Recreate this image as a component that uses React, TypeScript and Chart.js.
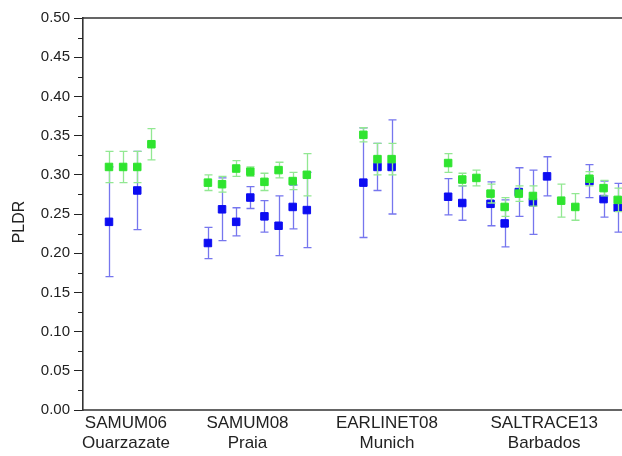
import React, { useEffect, useRef } from "react";
import { Chart, registerables } from "chart.js";

Chart.register(...registerables);

// Slot positions (measurement index along the x axis)
const blueSlots = [1, 3, 8, 9, 10, 11, 12, 13, 14, 15, 19, 20, 21, 25, 26, 28, 29, 30, 31, 32, 35, 36, 37];
const blueValues = [0.24, 0.28, 0.213, 0.256, 0.24, 0.271, 0.247, 0.235, 0.259, 0.255, 0.29, 0.31, 0.31, 0.272, 0.264, 0.263, 0.238, 0.278, 0.265, 0.298, 0.292, 0.269, 0.258];
const blueErrors = [0.07, 0.05, 0.02, 0.04, 0.018, 0.014, 0.02, 0.038, 0.028, 0.048, 0.07, 0.03, 0.06, 0.023, 0.022, 0.028, 0.03, 0.031, 0.041, 0.025, 0.021, 0.023, 0.031];

const greenSlots = [1, 2, 3, 4, 8, 9, 10, 11, 12, 13, 14, 15, 19, 20, 21, 25, 26, 27, 28, 29, 30, 31, 33, 34, 35, 36, 37];
const greenValues = [0.31, 0.31, 0.31, 0.339, 0.29, 0.288, 0.308, 0.304, 0.291, 0.306, 0.292, 0.3, 0.351, 0.32, 0.32, 0.315, 0.294, 0.296, 0.276, 0.259, 0.276, 0.273, 0.267, 0.259, 0.295, 0.283, 0.268];
const greenErrors = [0.02, 0.02, 0.02, 0.02, 0.01, 0.01, 0.01, 0.006, 0.011, 0.01, 0.011, 0.027, 0.009, 0.02, 0.02, 0.012, 0.008, 0.01, 0.012, 0.012, 0.01, 0.013, 0.021, 0.017, 0.009, 0.01, 0.015];

const groupLabelPositions = [2.2, 10.8, 20.67, 31.8];
const groupLabels = [
  ["SAMUM06", "Ouarzazate"],
  ["SAMUM08", "Praia"],
  ["EARLINET08", "Munich"],
  ["SALTRACE13", "Barbados"],
];

const yMin = 0;
const yMax = 0.5;
const yStep = 0.05;
const yTitle = "PLDR";

const FONT = "'Liberation Sans', Arial, sans-serif";

const errorBarPlugin = {
  id: "errorBars",
  beforeDatasetDraw(chart: any, args: any) {
    const ds = chart.data.datasets[args.index];
    const errs: number[] = ds.errors;
    if (!errs) return;
    const { ctx, scales } = chart;
    const xs = scales.x;
    const ys = scales.y;
    ctx.save();
    ctx.strokeStyle = ds.errorColor;
    ctx.lineWidth = 1.3;
    const cap = 4;
    ds.data.forEach((p: any, i: number) => {
      const px = Math.round(xs.getPixelForValue(p.x)) + 0.5;
      const top = ys.getPixelForValue(p.y + errs[i]);
      const bot = ys.getPixelForValue(p.y - errs[i]);
      ctx.beginPath();
      ctx.moveTo(px, top);
      ctx.lineTo(px, bot);
      ctx.moveTo(px - cap, top);
      ctx.lineTo(px + cap, top);
      ctx.moveTo(px - cap, bot);
      ctx.lineTo(px + cap, bot);
      ctx.stroke();
    });
    ctx.restore();
  },
};

const framePlugin = {
  id: "frameExtras",
  afterDraw(chart: any) {
    const { ctx, chartArea, scales } = chart;
    const ys = scales.y;
    ctx.save();
    ctx.strokeStyle = "#333";
    ctx.lineWidth = 1.6;
    ctx.beginPath();
    ctx.moveTo(chartArea.left, chartArea.top);
    ctx.lineTo(chart.width, chartArea.top);
    ctx.moveTo(chartArea.left, chartArea.bottom);
    ctx.lineTo(chart.width, chartArea.bottom);
    ctx.stroke();
    // minor ticks
    ctx.lineWidth = 1;
    ctx.strokeStyle = "#222";
    for (let v = yMin + yStep / 2; v < yMax; v += yStep) {
      const py = Math.round(ys.getPixelForValue(v)) + 0.5;
      ctx.beginPath();
      ctx.moveTo(chartArea.left - 5, py);
      ctx.lineTo(chartArea.left, py);
      ctx.stroke();
    }
    // y title
    ctx.fillStyle = "#222";
    ctx.font = `16px ${FONT}`;
    ctx.textAlign = "center";
    ctx.textBaseline = "middle";
    ctx.translate(20, 222);
    ctx.rotate(-Math.PI / 2);
    ctx.fillText(yTitle, 0, 0);
    ctx.restore();
  },
};

export default function App() {
  const ref = useRef<HTMLCanvasElement | null>(null);
  useEffect(() => {
    if (!ref.current) return;
    const chart = new Chart(ref.current, {
      type: "scatter",
      data: {
        datasets: [
          {
            label: "blue",
            data: blueSlots.map((s, i) => ({ x: s, y: blueValues[i] })),
            errors: blueErrors,
            errorColor: "#7676ee",
            backgroundColor: "#0c0cf2",
            borderColor: "#0c0cf2",
            borderWidth: 1,
            pointStyle: "rect",
            pointRadius: 5.3,
            clip: false,
            order: 2,
          } as any,
          {
            label: "green",
            data: greenSlots.map((s, i) => ({ x: s, y: greenValues[i] })),
            errors: greenErrors,
            errorColor: "#92e892",
            backgroundColor: "#2fe42f",
            borderColor: "#2fe42f",
            borderWidth: 1,
            pointStyle: "rect",
            pointRadius: 5.3,
            clip: false,
            order: 1,
          } as any,
        ],
      },
      options: {
        animation: false,
        responsive: false,
        layout: { padding: { top: 18, right: 0, bottom: 0, left: 0 } },
        plugins: { legend: { display: false }, tooltip: { enabled: false } },
        scales: {
          x: {
            type: "linear",
            min: -0.84,
            max: 37.3,
            afterFit(scale: any) {
              scale.height = 46;
              scale.paddingLeft = 0;
              scale.paddingRight = 0;
            },
            afterBuildTicks(scale: any) {
              scale.ticks = groupLabelPositions.map((v) => ({ value: v }));
            },
            grid: { display: false, drawTicks: false },
            border: { display: false },
            ticks: {
              autoSkip: false,
              maxRotation: 0,
              minRotation: 0,
              padding: 3,
              color: "#222",
              font: { family: FONT, size: 17 },
              callback: (_v: any, i: number) => groupLabels[i],
            },
          },
          y: {
            min: yMin,
            max: yMax,
            afterFit(scale: any) {
              scale.width = 83;
            },
            grid: {
              display: true,
              drawOnChartArea: false,
              drawTicks: true,
              tickLength: 9,
              color: "#222",
            },
            border: { display: true, color: "#333", width: 1.6 },
            ticks: {
              stepSize: yStep,
              padding: 4,
              color: "#222",
              font: { family: FONT, size: 15 },
              callback: (v: any) => Number(v).toFixed(2),
            },
          },
        },
      },
      plugins: [errorBarPlugin, framePlugin],
    } as any);
    // calibrate x range so slot 1 sits at 109px and slot 37 at 617.7px
    const xs: any = chart.scales.x;
    const pMin = xs.getPixelForValue(-0.84);
    const pMax = xs.getPixelForValue(37.3);
    const slope = (617.7 - 109) / 36;
    const newMin = 1 - (109 - pMin) / slope;
    const newMax = 37 + (pMax - 617.7) / slope;
    (chart.options as any).scales.x.min = newMin;
    (chart.options as any).scales.x.max = newMax;
    chart.update();
    return () => chart.destroy();
  }, []);
  return (
    <div style={{ position: "fixed", left: 0, top: 0, width: 622, height: 456, background: "#fff" }}>
      <canvas ref={ref} width={622} height={456} />
    </div>
  );
}
